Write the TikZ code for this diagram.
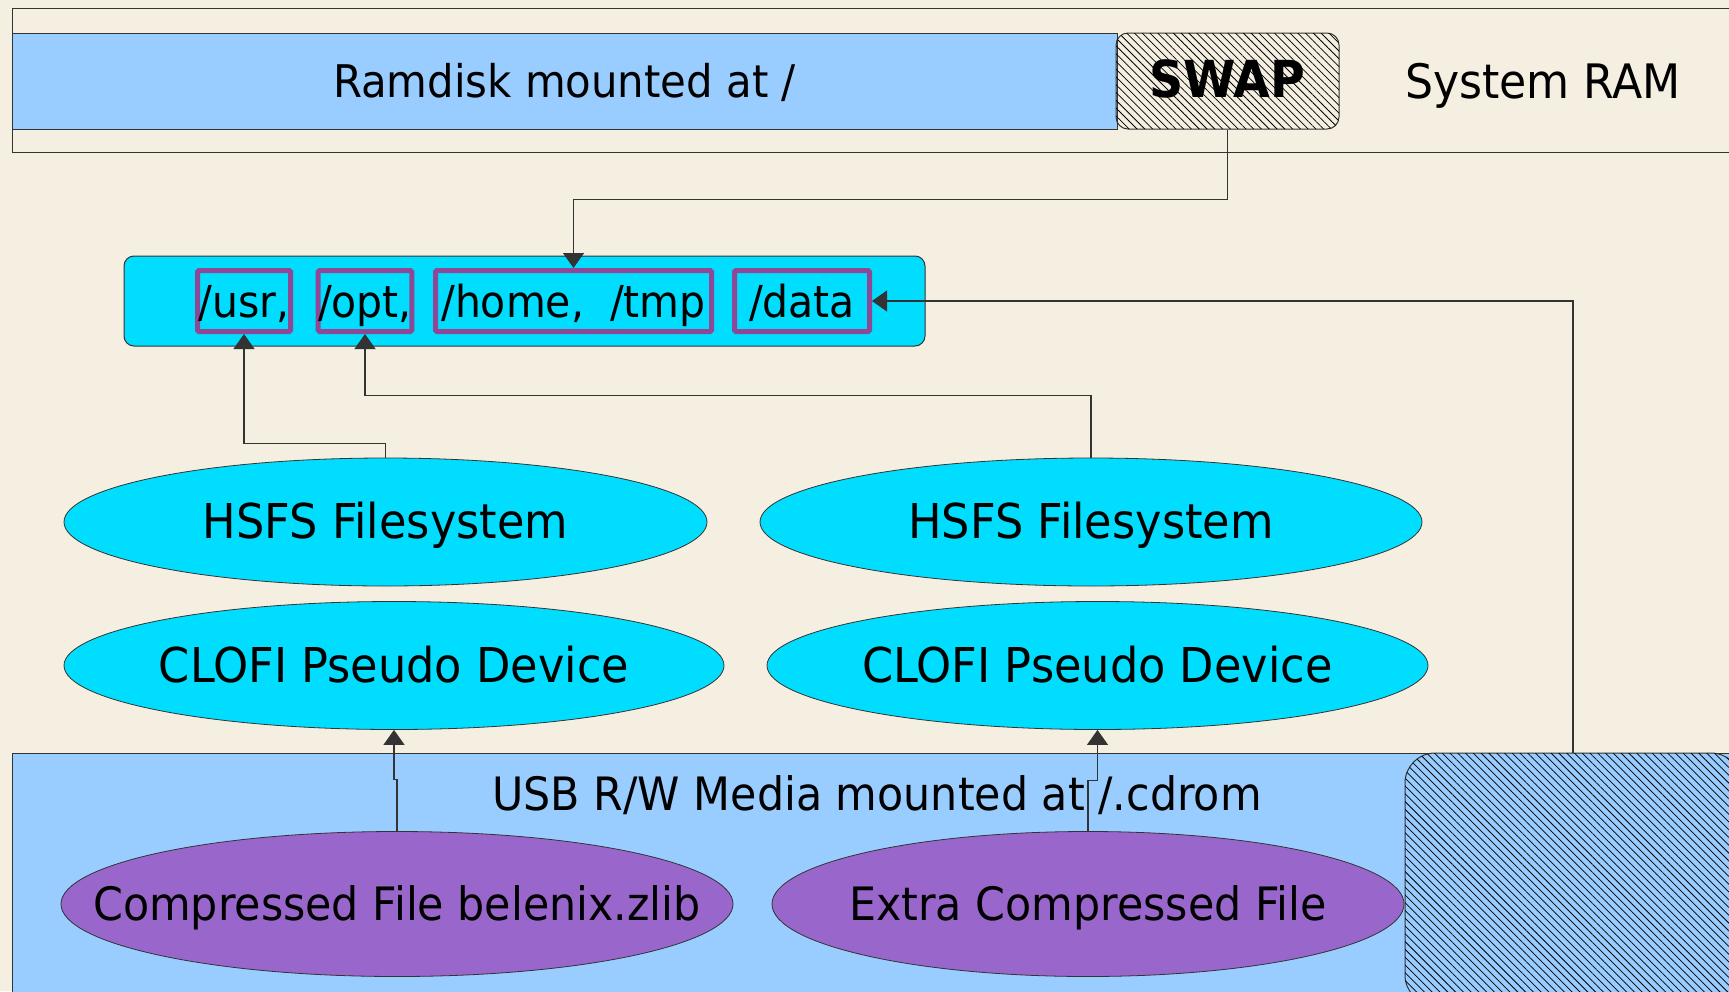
\documentclass[tikz,border=0pt]{standalone}
\usepackage{fontspec}
\setmainfont{DejaVu Sans}[FakeStretch=0.93]
\usetikzlibrary{arrows.meta,patterns.meta,shapes.geometric}
\definecolor{paper}{HTML}{F4EFE0}
\definecolor{ramblue}{HTML}{99CCFF}
\definecolor{devcyan}{HTML}{00DDFF}
\definecolor{filepurple}{HTML}{9966CC}
\definecolor{mountpurple}{HTML}{8E4896}

\begin{document}
\begin{tikzpicture} [
        x=1pt, y=-1pt,
        font=\fontsize{46}{55}\selectfont,
        every node/.append style={text height=43pt, text depth=10pt},
        region/.style={draw=black!80, line width=1pt, inner sep=0pt},
        hatched/.style={region, postaction={pattern={Lines[angle=-45,distance=5.5pt,line width=0.75pt]}}},
        mount/.style={draw=mountpurple, line width=5pt, fill=devcyan, rounded corners=1.5pt,
            minimum height=61pt, inner sep=0pt, font=\fontsize{44}{52}\selectfont},
        device/.style={ellipse, draw=black!80, line width=0.8pt, fill=devcyan, inner sep=0pt, minimum height=128pt},
        zfile/.style={ellipse, draw=black!80, line width=0.8pt, fill=filepurple, inner sep=0pt, minimum height=145pt},
        arrow edge/.style={draw=black!80, line width=1.1pt, -{Triangle[length=15pt,width=21pt]}},
    ]
    \useasboundingbox (0,0) rectangle (1729,991);
    \clip (0,0) rectangle (1729,991);
    \fill[paper] (0,0) rectangle (1729,991);
    % system RAM
    \node[region, minimum width=1748pt, minimum height=144pt] (ram) at (886,80) {};
    \node[region, fill=ramblue, minimum width=1105pt, minimum height=96pt,
        font=\fontsize{45}{54}\selectfont] (ramdisk) at (564.5,81) {Ramdisk mounted at /};
    \node[hatched, rounded corners=12pt, minimum width=223pt, minimum height=96pt,
        font=\fontsize{51}{60}\selectfont\bfseries] (swap) at (1227.5,81) {SWAP};
    \node[font=\fontsize{47.5}{57}\selectfont] (ramlabel) at (1543,82) {System RAM};
    % usb media
    \node[region, fill=ramblue, minimum width=1748pt, minimum height=257pt] (usb) at (886,881.5) {};
    \node (usblabel) at (877,794) {USB R/W Media mounted at /.cdrom};
    \node[hatched, fill=ramblue, rounded corners=30pt, minimum width=336pt, minimum height=252pt] (spare) at (1573,879) {};
    % mount points
    \node[region, fill=devcyan, rounded corners=10pt, minimum width=801pt, minimum height=90pt] (mounts) at (524.5,301) {};
    \node[mount, minimum width=93pt] (usr) at (244,301) {/usr,};
    \node[mount, minimum width=93pt] (opt) at (365,301) {/opt,};
    \node[mount, minimum width=276pt] (home) at (573.5,301) {/home,\ \ /tmp};
    \node[mount, minimum width=135pt] (data) at (802,301) {/data};
    % devices
    \foreach \pos/\name/\wid/\txt in {
            {(385.5,522)/hsfsL/643/HSFS Filesystem}, {(1091,522)/hsfsR/662/HSFS Filesystem},
            {(394,665.5)/clofiL/660/CLOFI Pseudo Device}, {(1097.5,665.5)/clofiR/661/CLOFI Pseudo Device}}
        \node[device, minimum width=\wid pt, label={[font=\fontsize{48}{58}\selectfont]center:\txt}] (\name) at \pos {};
    \node[zfile, minimum width=672pt, label=center:Compressed File belenix.zlib] (zlib) at (397,904) {};
    \node[zfile, minimum width=632pt, label=center:Extra Compressed File] (extra) at (1088,904) {};
    % connectors
    \path[arrow edge] (swap.south) -- ++(0,70) -| (home.north);
    \path[arrow edge] (spare.north) |- (data.east);
    \path[arrow edge] (hsfsL.north) -- ++(0,-14) -| (usr.south);
    \path[arrow edge] (hsfsR.north) -- ++(0,-62) -| (opt.south);
    \path[arrow edge] (zlib.north) -- ++(0,-52) -| (clofiL.south);
    \path[arrow edge] (extra.north) -- ++(0,-51) -| (clofiR.south);
\end{tikzpicture}
\end{document}
